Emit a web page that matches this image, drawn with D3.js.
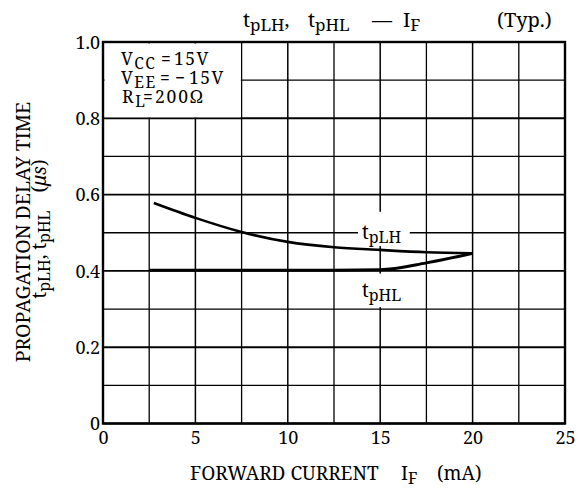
<!DOCTYPE html>
<html>
<head>
<meta charset="utf-8">
<script src="https://cdn.jsdelivr.net/npm/d3@7"></script>
<style>
  body { margin: 0; background: #fff; }
  text { font-family: "Noto Serif", "Liberation Serif", serif; fill: #000; }
</style>
</head>
<body>
<script>
// forward current (mA) and delay time (us)
var tpLH_if = [2.75, 5, 7.5, 10, 12.5, 15, 17.5, 20];
var tpLH_t  = [0.578, 0.539, 0.502, 0.476, 0.462, 0.455, 0.449, 0.446];
var tpHL_if = [2.5, 5, 7.5, 10, 12.5, 15, 17.5, 20];
var tpHL_t  = [0.402, 0.402, 0.402, 0.402, 0.402, 0.403, 0.421, 0.446];

var xTicks = [0, 5, 10, 15, 20, 25];
var yTicks = [0, 0.2, 0.4, 0.6, 0.8, 1.0];
var xGrid = [2.5, 7.5, 12.5, 17.5, 22.5];
var yGrid = [0.1, 0.3, 0.5, 0.7, 0.9];

var W = 581, H = 490;
var x = d3.scaleLinear().domain([0, 25]).range([103, 565]);
var y = d3.scaleLinear().domain([0, 1]).range([423.5, 42]);

var svg = d3.select("body").append("svg")
  .attr("width", W).attr("height", H);

// grid
var grid = svg.append("g").attr("stroke", "#000").attr("fill", "none");
grid.selectAll("line.vmin").data(xGrid).enter().append("line")
  .attr("x1", d => x(d)).attr("x2", d => x(d))
  .attr("y1", y(0)).attr("y2", y(1)).attr("stroke-width", 1.3);
grid.selectAll("line.hmin").data(yGrid).enter().append("line")
  .attr("x1", x(0)).attr("x2", x(25))
  .attr("y1", d => y(d)).attr("y2", d => y(d)).attr("stroke-width", 1.3);
grid.selectAll("line.vmaj").data(xTicks).enter().append("line")
  .attr("x1", d => x(d)).attr("x2", d => x(d))
  .attr("y1", y(0)).attr("y2", y(1)).attr("stroke-width", 1.5);
grid.selectAll("line.hmaj").data(yTicks).enter().append("line")
  .attr("x1", x(0)).attr("x2", x(25))
  .attr("y1", d => y(d)).attr("y2", d => y(d)).attr("stroke-width", 1.9);

// blank out the grid behind the condition box and curve labels
var blank = svg.append("g").attr("fill", "#fff");
blank.append("rect")
  .attr("x", x(0) + 1.5).attr("y", y(1) + 1.5)
  .attr("width", x(7.5) - x(0) - 2.3).attr("height", y(0.8) - y(1) - 2.5);
blank.append("rect")
  .attr("x", x(13.8)).attr("y", y(0.555))
  .attr("width", x(16.6) - x(13.8)).attr("height", y(0.465) - y(0.555));
blank.append("rect")
  .attr("x", x(14.1)).attr("y", y(0.393))
  .attr("width", x(16.0) - x(14.1)).attr("height", y(0.305) - y(0.393));

// frame
svg.append("rect")
  .attr("x", x(0)).attr("y", y(1))
  .attr("width", x(25) - x(0)).attr("height", y(0) - y(1))
  .attr("fill", "none").attr("stroke", "#000").attr("stroke-width", 2.4);

// curves
var line = d3.line().curve(d3.curveMonotoneX)
  .x(d => x(d[0])).y(d => y(d[1]));
svg.append("path")
  .datum(d3.zip(tpLH_if, tpLH_t))
  .attr("d", line).attr("fill", "none")
  .attr("stroke", "#000").attr("stroke-width", 2.6);
svg.append("path")
  .datum(d3.zip(tpHL_if, tpHL_t))
  .attr("d", line).attr("fill", "none")
  .attr("stroke", "#000").attr("stroke-width", 3);

// axes (labels only, grid is the frame)
var fmt = d => d === 0 ? "0" : d.toFixed(1);
var ax = svg.append("g").attr("transform", "translate(0," + y(0) + ")")
  .call(d3.axisBottom(x).tickValues(xTicks).tickSize(0).tickPadding(8));
var ay = svg.append("g").attr("transform", "translate(" + x(0) + ",0)")
  .call(d3.axisLeft(y).tickValues(yTicks).tickFormat(fmt).tickSize(0).tickPadding(3));
[ax, ay].forEach(function(g) {
  g.select(".domain").remove();
  g.attr("font-family", null).attr("font-size", null);
  g.selectAll("text").style("font-size", "18px").attr("fill", "#000");
});
ay.selectAll("text").attr("dy", "0.34em");

// text with subscripts: parts = [text, sub, absX, dx, italic]
function rich(parent, px, py, parts, size, subSize, anchor, spacing) {
  var t = parent.append("text").attr("x", px).attr("y", py)
    .style("font-size", size + "px")
    .attr("text-anchor", anchor || "start");
  if (spacing) t.style("letter-spacing", spacing + "px");
  var down = false;
  parts.forEach(function(p) {
    var s = t.append("tspan").text(p[0]);
    if (p[2] !== undefined) s.attr("x", p[2]);
    if (p[3]) s.attr("dx", p[3]);
    if (p[1] && !down) { s.attr("dy", size * 0.2); down = true; }
    else if (!p[1] && down) { s.attr("dy", -size * 0.2); down = false; }
    if (p[1]) s.style("font-size", subSize + "px");
    if (p[4]) s.style("font-style", "italic");
  });
  return t;
}

// title
rich(svg, 243, 27, [["t"], ["pLH", 1], [","], ["t", 0, 308], ["pHL", 1],
  ["\u2014", 0, 372], ["I", 0, 403], ["F", 1]], 20, 17);
rich(svg, 497, 27, [["(Typ.)"]], 20, 17);

// conditions
rich(svg, 121, 65, [["V"], ["CC", 1], ["=", 0, 161], ["15V", 0, 174]], 17.5, 15.5, null, 1.5);
rich(svg, 121, 84, [["V"], ["EE", 1], ["=", 0, 160], ["\u2212", 0, 175], ["15V", 0, 189]], 17.5, 15.5, null, 1.5);
rich(svg, 122, 103, [["R"], ["L", 1], ["=", 0, 143], ["200\u03a9", 0, 155]], 17.5, 15.5, null, 1.8);

// curve labels
rich(svg, 362, 239, [["t"], ["pLH", 1]], 19, 16);
rich(svg, 362, 297, [["t"], ["pHL", 1]], 19, 16);

// axis titles
rich(svg, 190, 480, [["FORWARD CURRENT"], ["I", 0, 401], ["F", 1], ["(mA)", 0, 437]], 19, 16);

var yl = svg.append("g").attr("transform", "translate(30,232) rotate(-90)");
rich(yl, 0, 0, [["PROPAGATION DELAY TIME"]], 19.5, 16, "middle");
var yl2 = svg.append("g").attr("transform", "translate(46,229) rotate(-90)");
rich(yl2, 0, 0, [["t"], ["pLH", 1], [", t"], ["pHL", 1], ["(", 0, undefined, 18], ["\u03bcs", 0, undefined, 0, 1], [")"]], 19, 16, "middle");
</script>
</body>
</html>
